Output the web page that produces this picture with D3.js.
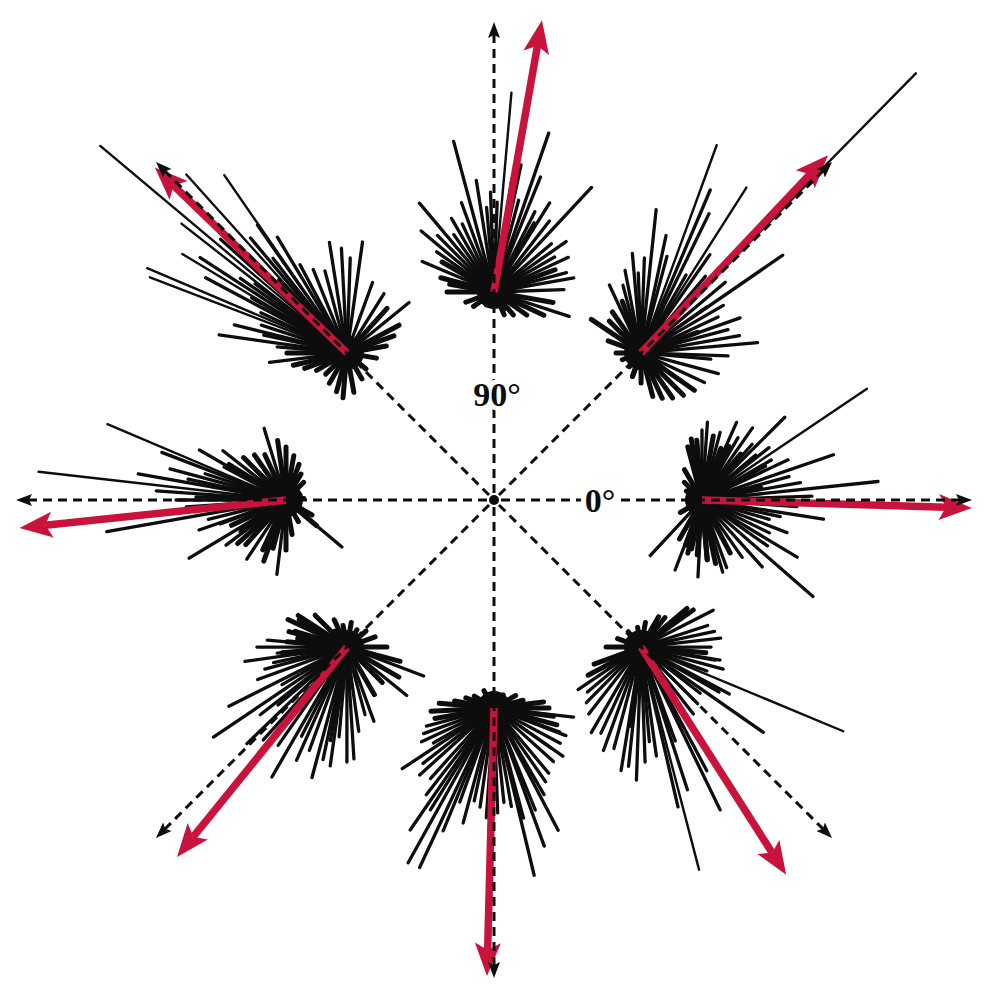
<!DOCTYPE html>
<html><head><meta charset="utf-8">
<script src="https://cdn.jsdelivr.net/npm/d3@7"></script>
<style>html,body{margin:0;padding:0;background:#fff}svg{display:block}</style>
</head><body>
<svg id="c" width="995" height="1003"></svg>
<script>
// movement directions (deg, counter-clockwise from 0° = right)
const directions = [0, 45, 90, 135, 180, 225, 270, 315];
// population vector for each direction
const vectorAngles = [-1.7, 46.6, 80, 136, 186, 231, 268.5, 302.5];
const vectorLengths = [270, 272, 276, 267, 268, 270, 268, 270];
// individual cell contributions [preferred direction deg, weighted length]
const cells0 = [[34,199],[19,139],[6,177],[45,117],[86,78],[105,55],[66,85],[55,88],[227,76],[249,75],[267,77],[286,75],[-41,147],[-31,111],[-9,123],[-21,91],
 [75,70],[80,65],[95,60],[60,72],[50,60],[40,70],[30,80],[25,95],[15,90],[10,100],[2,110],[-4,95],[-12,80],[-16,70],[-26,75],[-35,80],[-48,90],[-55,70],[-62,60],[-70,72],[-78,65],[-85,60],[-95,55],[-102,50],[-110,48],[240,45],[255,55],[275,60],[120,35],[135,25],[150,18],[170,12],[190,14],[210,25],[100,62],[90,70],[70,55],[63,60],[48,75],[38,85],[28,72],[12,60]];
const cells45 = [[45.5,392],[70,221],[57.5,196],[67,177],[64,155],[84,144],[34.6,172],[101,84],[115,75],[146,60],[5,117],[19.5,105],[-2,87],
 [-15,80],[-25,70],[-35,65],[-45,60],[-55,55],[-65,50],[-75,45],[-90,30],[-110,25],[10,100],[15,90],[25,85],[30,95],[40,110],[50,100],[55,120],[60,90],[75,100],[78,120],[88,95],[92,80],[95,100],[105,70],[110,55],[125,50],[135,45],[160,35],[180,25],[200,20],[230,18],[250,25],[-5,70],[20,60],[35,80]];
const cells90 = [[85,200],[105,156],[71,168],[99,113],[68,124],[130,116],[58,105],[47,143],[157,78],[10,81],[180,47],[-18,79],[-66,25],
 [81,115],[92,100],[88,90],[95,85],[110,95],[115,75],[120,85],[125,70],[135,80],[140,95],[145,70],[150,60],[165,55],[170,45],[60,80],[52,90],[40,75],[30,70],[20,65],[75,95],[78,130],[63,90],[-10,60],[-25,55],[-35,40],[-50,30],[200,30],[215,25],[240,15],[300,20],[2,70],[15,75],[25,82],[35,88]];
const cells135 = [[140,322],[124.6,216],[157,217],[159,211],[149,192],[172,129],[187,78],[99,112],[82,112],[39,80],[28,59],[58,70],[125,156],[121,135],[166,116],
 [130,150],[135,140],[128,120],[133,100],[138,170],[145,130],[150,110],[155,95],[162,90],[168,85],[175,70],[180,60],[193,55],[200,45],[210,35],[225,30],[240,35],[255,40],[265,45],[280,40],[300,30],[320,25],[350,30],[10,40],[20,50],[48,60],[70,75],[88,95],[93,105],[105,85],[112,90],[118,100],[143,115],[152,160],[147,175],[136,190],[142,210],[132,240]];
const cells180 = [[157,194],[173.5,249],[190,182],[211,113],[107,75],[90,53],[70,38],[-40,73],[263,75],[236.5,71],[159,133],[148,67],[5,18],[199,92],[217,75],
 [165,120],[170,150],[176,130],[180,110],[184,100],[178,90],[186,85],[194,80],[200,70],[205,60],[215,55],[222,65],[228,60],[245,55],[250,65],[255,50],[270,50],[280,35],[300,25],[320,40],[330,30],[20,15],[45,25],[60,30],[80,45],[98,60],[115,50],[125,55],[135,60],[142,80],[152,70],[162,85],[168,100],[150,100]];
const cells225 = [[214,161],[206.6,132],[188,103],[147,58],[-20.6,82],[-39,77],[290,79],[270,115],[273.6,112],[255,135],[246,124],[240,150],[224,139],[127,20],[175,60],[185,65],[163,54],
 [165,60],[175,80],[180,90],[185,70],[195,85],[200,95],[210,75],[220,90],[230,100],[235,120],[250,110],[260,95],[265,90],[278,85],[285,70],[300,55],[315,50],[330,60],[345,55],[0,40],[20,30],[40,25],[60,20],[80,25],[100,22],[115,30],[135,45],[150,55],[155,65],[170,50],[192,75],[218,110],[228,125],[243,100],[258,115],[262,120]];
const cells270 = [[283.5,172],[245,176],[241,177],[235.5,148],[213.5,110],[183,63],[-6.5,80],[7,50],[297.7,138],[290,147],[-21,77],[-35,84],[255,119],[247.5,133],[285,114],[149,23],[55,16],
 [190,60],[195,70],[200,75],[205,80],[210,70],[218,90],[222,100],[228,95],[232,110],[238,120],[250,100],[258,95],[262,100],[266,110],[272,105],[276,95],[280,100],[292,110],[300,100],[305,90],[310,85],[318,80],[325,70],[332,75],[340,70],[345,65],[352,60],[0,55],[15,30],[170,40],[175,55],[160,30],[120,20],[90,15],[30,25]];
const cells315 = [[284.6,230],[-22.6,219],[-34.9,149],[295.9,181],[283,164],[268,133],[260.8,125],[239.8,99],[214,76],[27,81],[35.4,64],[6.4,80],[-9.3,80],[51,38],[225.5,78],
 [0,70],[12,75],[18,70],[40,60],[60,35],[80,25],[100,20],[130,20],[160,25],[180,35],[200,50],[208,60],[220,70],[232,85],[245,95],[250,110],[255,105],[264,120],[272,115],[278,110],[290,100],[298,140],[302,90],[308,85],[315,80],[322,75],[330,90],[340,70],[345,85],[350,75],[355,65],[-28,100],[288,150],[275,95],[262,80]];
const cellSets = [cells0, cells45, cells90, cells135, cells180, cells225, cells270, cells315];
const axisAngles = [0, 45, 90, 135, 180, 225, 270, 315];
const axisLabels = ["0°", "90°"];
const axisLabelAngles = [0, 90];

const W = 995, H = 1003, cx = 494, cy = 500;
const r = d3.scaleLinear().domain([0, 100]).range([0, 100]);
const clusterRadius = 208, axisLength = 478, labelRadius = 106;
const red = "#c8143c", ink = "#0d0d0d";
const rad = d => d * Math.PI / 180;
const pol = (len, deg) => [r(len) * Math.cos(rad(deg)), -r(len) * Math.sin(rad(deg))];

const svg = d3.select("#c");
const g = svg.append("g").attr("transform", `translate(${cx},${cy})`);

// cell lines
const gc = g.append("g").attr("stroke", ink).attr("stroke-linecap", "round");
directions.forEach((dir, i) => {
  const o = pol(clusterRadius, dir);
  const grp = gc.append("g").attr("transform", `translate(${o[0]},${o[1]})`);
  grp.selectAll("line").data(cellSets[i]).join("line")
    .attr("x1", 0).attr("y1", 0)
    .attr("x2", d => pol(d[1], d[0])[0])
    .attr("y2", d => pol(d[1], d[0])[1])
    .attr("stroke-width", d => d[1] > 190 ? 2.4 : (d[1] < 70 ? 5 : 3.3));
  grp.append("circle").attr("r", 17).attr("fill", ink).attr("stroke", "none");
});

// population vectors
const head = 30, headW = 13;
directions.forEach((dir, i) => {
  const o = pol(clusterRadius, dir);
  const a = vectorAngles[i], L = vectorLengths[i];
  const base = pol(L - head + 4, a), tip = pol(L, a);
  const gv = g.append("g").attr("transform", `translate(${o[0]},${o[1]})`);
  gv.append("line").attr("x1", 0).attr("y1", 0).attr("x2", base[0]).attr("y2", base[1])
    .attr("stroke", red).attr("stroke-width", 7.5);
  const px = Math.sin(rad(a)) * headW, py = Math.cos(rad(a)) * headW;
  const back = pol(L - head - 3, a);
  gv.append("path")
    .attr("d", `M${tip[0]},${tip[1]}L${back[0] + px},${back[1] + py}L${base[0]},${base[1]}L${back[0] - px},${back[1] - py}Z`)
    .attr("fill", red);
});

// dashed axes
const ah = 13, aw = 6;
axisAngles.forEach(a => {
  const end = pol(axisLength - ah, a), tip = pol(axisLength, a);
  const start = pol(7, a);
  g.append("line").attr("x1", start[0]).attr("y1", start[1]).attr("x2", end[0]).attr("y2", end[1])
    .attr("stroke", ink).attr("stroke-width", 3).attr("stroke-dasharray", "9,6");
  const px = Math.sin(rad(a)) * aw, py = Math.cos(rad(a)) * aw;
  const back = pol(axisLength - ah - 3, a);
  g.append("path")
    .attr("d", `M${tip[0]},${tip[1]}L${back[0] + px},${back[1] + py}L${end[0]},${end[1]}L${back[0] - px},${back[1] - py}Z`)
    .attr("fill", ink);
});
g.append("circle").attr("r", 5).attr("fill", ink);

// labels
axisLabels.forEach((t, i) => {
  const p = pol(labelRadius, axisLabelAngles[i]);
  g.append("text").attr("x", p[0] + (i === 1 ? 3 : 0)).attr("y", p[1]).attr("dy", "0.35em")
    .attr("text-anchor", "middle")
    .attr("font-family", "'Liberation Serif', serif").attr("font-weight", "bold").attr("font-size", 34)
    .attr("stroke", "#fff").attr("stroke-width", 10).attr("paint-order", "stroke")
    .attr("fill", ink).text(t);
});
</script>
</body></html>
